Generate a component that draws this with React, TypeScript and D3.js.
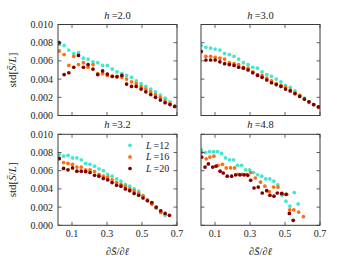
import React from "react";
import * as d3 from "d3";

// ---------- data (y values in units of 1e-3) ----------
const hLabels = ["2.0", "3.0", "3.2", "4.8"];
const sizesL = [12, 16, 20];
const colors = ["#40e8d0", "#ff6e0c", "#7f0000"];

const yTicks = [0, 2, 4, 6, 8, 10];
const xTicks = [0.1, 0.3, 0.5, 0.7];

// h = 2.0
const x20 = [0.027, 0.055, 0.082, 0.110, 0.137, 0.165, 0.192, 0.220, 0.247, 0.275, 0.302, 0.330, 0.357, 0.385, 0.412, 0.440, 0.467, 0.495, 0.522, 0.550, 0.577, 0.605, 0.632, 0.660, 0.687];
const y20_12 = [7.8, 7.7, 7.2, 6.8, 6.9, 6.3, 6.2, 5.9, 5.8, 5.5, 5.5, 5.1, 4.8, 4.6, 4.4, 4.2, 3.8, 3.5, 3.2, 2.9, 2.6, 2.25, 1.9, 1.5, 1.0];
const y20_16 = [7.1, 6.7, 5.5, 6.5, 5.6, 5.8, 5.3, 5.6, 4.6, 4.6, 4.4, 4.3, 4.3, 4.2, 4.0, 3.7, 3.5, 3.2, 2.9, 2.6, 2.3, 2.0, 1.6, 1.3, 1.0];
const y20_20 = [8.0, 4.5, 4.7, 5.3, 6.6, 5.3, 5.6, 5.1, 4.5, 4.9, 4.55, 4.3, 4.25, 4.4, 3.45, 3.2, 3.2, 2.9, 2.6, 2.3, 2.0, 1.7, 1.4, 1.2, 1.0];

// h = 3.0
const x30 = [0.021, 0.048, 0.075, 0.101, 0.128, 0.155, 0.182, 0.209, 0.235, 0.262, 0.289, 0.316, 0.343, 0.369, 0.396, 0.423, 0.450, 0.477, 0.503, 0.530, 0.557, 0.584, 0.611, 0.637, 0.664, 0.691];
const y30_12 = [7.7, 7.5, 7.4, 7.3, 7.2, 6.8, 6.7, 6.5, 6.2, 5.8, 5.6, 5.3, 5.2, 4.8, 4.5, 4.3, 4.0, 3.7, 3.3, 3.1, 2.7, 2.25, 1.9, 1.5, 1.2, 0.9];
const y30_16 = [7.0, 6.5, 6.5, 6.4, 6.3, 6.2, 5.8, 5.7, 5.6, 5.3, 5.2, 4.8, 4.5, 4.4, 4.1, 3.8, 3.5, 3.3, 3.1, 2.8, 2.5, 2.2, 1.8, 1.5, 1.2, 0.9];
const y30_20 = [7.05, 6.1, 6.1, 6.1, 5.9, 5.7, 5.6, 5.5, 5.3, 5.2, 5.0, 4.7, 4.4, 4.2, 3.9, 3.6, 3.4, 3.2, 2.9, 2.7, 2.4, 2.1, 1.8, 1.5, 1.2, 0.95];

// h = 3.2
const x32 = [0.027, 0.052, 0.077, 0.103, 0.128, 0.153, 0.178, 0.203, 0.229, 0.254, 0.279, 0.304, 0.329, 0.355, 0.380, 0.405, 0.430, 0.455, 0.481, 0.506, 0.531, 0.556, 0.581, 0.607, 0.632, 0.657];
const y32_12 = [7.8, 7.6, 7.7, 7.4, 7.4, 7.2, 6.8, 6.7, 6.5, 6.2, 6.0, 5.6, 5.4, 5.1, 4.85, 4.5, 4.3, 4.0, 3.75, 3.3, 2.75, 2.5, 1.9, 1.5, 1.1];
const y32_16 = [7.3, 6.9, 6.8, 6.7, 6.4, 6.4, 6.1, 6.1, 5.9, 5.6, 5.4, 5.3, 5.0, 4.7, 4.5, 4.3, 4.0, 3.8, 3.5, 3.2, 2.8, 2.3, 1.9, 1.4];
const y32_20 = [7.35, 6.25, 6.1, 6.3, 5.95, 5.95, 5.9, 5.8, 5.5, 5.4, 5.15, 5.0, 4.7, 4.4, 4.3, 4.0, 3.8, 3.5, 3.3, 3.0, 2.7, 2.5, 2.0, 1.6, 1.3, 1.1];

// h = 4.8
const x48_12 = [0.022, 0.045, 0.068, 0.091, 0.114, 0.137, 0.160, 0.183, 0.206, 0.229, 0.252, 0.275, 0.298, 0.321, 0.344, 0.367, 0.390, 0.413, 0.436, 0.459, 0.482, 0.505, 0.528, 0.553, 0.575];
const y48_12 = [8.3, 8.0, 8.1, 8.1, 8.1, 7.9, 7.4, 7.2, 7.2, 6.6, 6.6, 6.1, 6.1, 5.8, 5.55, 5.4, 5.1, 5.1, 4.85, 4.45, 3.3, 2.65, 2.1, 3.6, 2.35];
const x48_16 = [0.024, 0.050, 0.071, 0.094, 0.117, 0.142, 0.164, 0.189, 0.212, 0.233, 0.256, 0.281, 0.304, 0.330, 0.360, 0.385, 0.410, 0.435, 0.460, 0.485, 0.510, 0.527, 0.550, 0.578, 0.605];
const y48_16 = [8.0, 7.3, 7.5, 7.6, 6.6, 6.7, 6.3, 6.3, 6.3, 5.6, 5.6, 5.6, 5.8, 5.2, 4.75, 4.3, 3.7, 4.2, 4.2, 3.45, 3.4, 1.7, 1.7, 1.45, 0.95];
const x48_20 = [0.024, 0.043, 0.062, 0.087, 0.106, 0.129, 0.147, 0.170, 0.195, 0.218, 0.243, 0.266, 0.287, 0.304, 0.323, 0.347, 0.370, 0.395, 0.414, 0.437, 0.456, 0.481, 0.506, 0.525, 0.547];
const y48_20 = [7.5, 6.4, 6.75, 6.4, 6.5, 5.95, 5.75, 5.4, 5.4, 5.55, 5.55, 5.55, 5.5, 4.95, 4.1, 4.2, 3.55, 3.8, 3.3, 3.2, 3.55, 3.5, 3.4, 1.3, 0.55];

const panelData = [
  [[x20, y20_12], [x20, y20_16], [x20, y20_20]],
  [[x30, y30_12], [x30, y30_16], [x30, y30_20]],
  [[x32, y32_12], [x32, y32_16], [x32, y32_20]],
  [[x48_12, y48_12], [x48_16, y48_16], [x48_20, y48_20]],
];

// ---------- layout ----------
const W = 337;
const H = 267;
const PW = 119;
const PH = 91;
const lefts = [58, 201];
const tops = [24.5, 134.3];
const FONT = "'Liberation Serif', 'DejaVu Serif', serif";
const AXC = "#3a3a3a";

const xScale = d3.scaleLinear().domain([0.02, 0.7]).range([0, PW]);
const yScale = d3.scaleLinear().domain([0, 10]).range([PH, 0]);

function Panel({ idx }: { idx: number }) {
  const col = idx % 2;
  const row = Math.floor(idx / 2);
  const left = lefts[col];
  const top = tops[row];
  const tl = 3.5;
  const clipId = `clip${idx}`;
  return (
    <g transform={`translate(${left},${top})`}>
      <defs>
        <clipPath id={clipId}>
          <rect x={0} y={0} width={PW} height={PH} />
        </clipPath>
      </defs>
      <g clipPath={`url(#${clipId})`}>
        {panelData[idx].map(([xs, ys], si) => (
          <g key={si} fill={colors[si]}>
            {ys.map((v, i) => (
              <circle key={i} cx={xScale(xs[i])} cy={yScale(v)} r={1.85} />
            ))}
          </g>
        ))}
      </g>
      <rect x={0} y={0} width={PW} height={PH} fill="none" stroke={AXC} strokeWidth={1} />
      {xTicks.map((t) => (
        <g key={t}>
          <line x1={xScale(t)} x2={xScale(t)} y1={PH} y2={PH - tl} stroke={AXC} strokeWidth={0.8} />
          <line x1={xScale(t)} x2={xScale(t)} y1={0} y2={tl} stroke={AXC} strokeWidth={0.8} />
          {row === 1 && (
            <text x={xScale(t)} y={PH + 12} textAnchor="middle" fontSize={10} fontFamily={FONT} fill="#222">
              {t.toFixed(1)}
            </text>
          )}
        </g>
      ))}
      {yTicks.map((t) => (
        <g key={t}>
          <line x1={0} x2={tl} y1={yScale(t)} y2={yScale(t)} stroke={AXC} strokeWidth={0.8} />
          <line x1={PW} x2={PW - tl} y1={yScale(t)} y2={yScale(t)} stroke={AXC} strokeWidth={0.8} />
          {col === 0 && (
            <text x={-5} y={yScale(t) + 3.5} textAnchor="end" fontSize={10} fontFamily={FONT} fill="#222">
              {(t / 1000).toFixed(3)}
            </text>
          )}
        </g>
      ))}
      <text x={PW / 2} y={-6} textAnchor="middle" fontSize={10.5} fontFamily={FONT} fill="#222">
        <tspan fontStyle="italic">h</tspan>
        <tspan>{"\u2009=" + hLabels[idx]}</tspan>
      </text>
      {row === 1 && (
        <text x={PW / 2} y={PH + 30} textAnchor="middle" fontSize={10.5} fontFamily={FONT} fill="#222">
          <tspan>∂</tspan>
          <tspan fontStyle="italic">{"S\u0304"}</tspan>
          <tspan>/∂</tspan>
          <tspan fontStyle="italic">ℓ</tspan>
        </text>
      )}
      {col === 0 && (
        <text
          transform={`translate(${-42.5},${PH / 2}) rotate(-90)`}
          textAnchor="middle"
          fontSize={11}
          fontFamily={FONT}
          fill="#222"
        >
          <tspan>std[</tspan>
          <tspan fontStyle="italic">{"S\u0304"}</tspan>
          <tspan>/</tspan>
          <tspan fontStyle="italic">L</tspan>
          <tspan>]</tspan>
        </text>
      )}
      {idx === 2 &&
        sizesL.map((L, si) => (
          <g key={L} transform={`translate(72,${11 + si * 11.6})`}>
            <circle cx={0} cy={0} r={1.85} fill={colors[si]} />
            <text x={16} y={3.5} fontSize={10} fontFamily={FONT} fill="#222">
              <tspan fontStyle="italic">L</tspan>
              <tspan>{"\u2009=" + L}</tspan>
            </text>
          </g>
        ))}
    </g>
  );
}

export default function App() {
  return (
    <svg width={W} height={H} style={{ display: "block", position: "absolute", left: 0, top: 0, background: "#fff" }}>
      <rect width={W} height={H} fill="#fff" />
      {[0, 1, 2, 3].map((i) => (
        <Panel key={i} idx={i} />
      ))}
    </svg>
  );
}
